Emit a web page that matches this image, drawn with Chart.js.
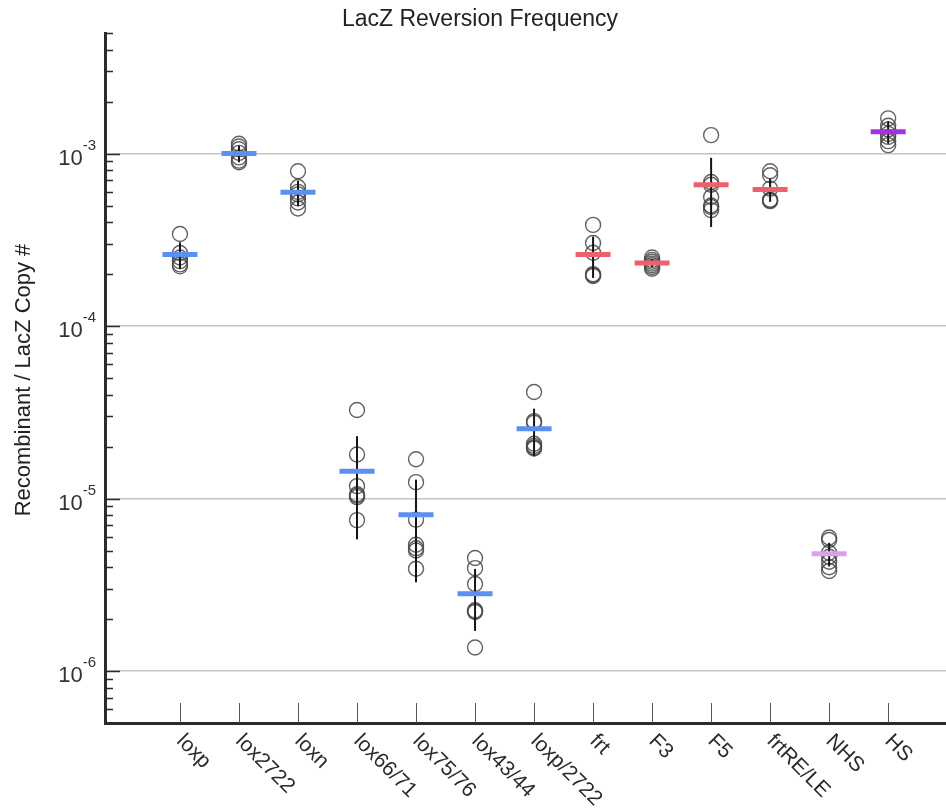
<!DOCTYPE html>
<html>
<head>
<meta charset="utf-8">
<script src="https://cdn.jsdelivr.net/npm/chart.js@4"></script>
<style>
  html, body { margin: 0; padding: 0; background: #fff; overflow: hidden; }
  #lacZChart { display: block; }
</style>
</head>
<body>
<canvas id="lacZChart" width="946" height="809"></canvas>
<script>
// categories along the x axis
const categories = ['loxp', 'lox2722', 'loxn', 'lox66/71', 'lox75/76', 'lox43/44', 'loxp/2722',
  'frt', 'F3', 'F5', 'frtRE/LE', 'NHS', 'HS'];

// individual replicates (recombinant / lacZ copy #), one list per category
const replicates = [
  [3.42e-4, 2.65e-4, 2.5e-4, 2.38e-4, 2.28e-4, 2.22e-4],
  [1.14e-3, 1.10e-3, 1.06e-3, 1.01e-3, 0.95e-3, 0.91e-3, 0.89e-3],
  [7.9e-4, 6.4e-4, 6.0e-4, 5.8e-4, 5.5e-4, 5.2e-4, 4.8e-4],
  [3.26e-5, 1.80e-5, 1.18e-5, 1.06e-5, 1.04e-5, 1.02e-5, 7.5e-6],
  [1.69e-5, 1.245e-5, 7.55e-6, 5.4e-6, 5.15e-6, 5.0e-6, 3.92e-6],
  [4.52e-6, 3.95e-6, 3.2e-6, 2.25e-6, 2.22e-6, 2.2e-6, 1.37e-6],
  [4.15e-5, 2.81e-5, 2.75e-5, 2.08e-5, 2.02e-5, 1.98e-5, 1.95e-5],
  [3.86e-4, 3.03e-4, 2.66e-4, 2.0e-4, 1.97e-4, 1.95e-4],
  [2.5e-4, 2.42e-4, 2.36e-4, 2.3e-4, 2.25e-4, 2.2e-4, 2.15e-4],
  [1.28e-3, 6.84e-4, 6.6e-4, 5.6e-4, 5.0e-4, 4.9e-4, 4.7e-4],
  [7.9e-4, 7.48e-4, 6.26e-4, 5.4e-4, 5.35e-4, 5.3e-4],
  [5.95e-6, 5.75e-6, 4.85e-6, 4.6e-6, 4.3e-6, 4.0e-6, 3.8e-6],
  [1.60e-3, 1.45e-3, 1.38e-3, 1.30e-3, 1.25e-3, 1.18e-3, 1.12e-3]
];

// group means and standard deviations
const meanValues = [2.6e-4, 1.0e-3, 5.96e-4, 1.44e-5, 8.07e-6, 2.81e-6, 2.54e-5,
  2.6e-4, 2.32e-4, 6.6e-4, 6.2e-4, 4.79e-6, 1.34e-3];
const sdValues = [0.46e-4, 0.11e-3, 1.0e-4, 0.86e-5, 4.8e-6, 1.1e-6, 0.78e-5,
  0.7e-4, 0.12e-4, 2.85e-4, 0.95e-4, 0.75e-6, 0.2e-3];

// y axis decades that get a label and a grid line
const yDecades = [-6, -5, -4, -3];

const BLUE = '#5b8ff0', RED = '#f0606a';
const meanColors = [BLUE, BLUE, BLUE, BLUE, BLUE, BLUE, BLUE, RED, RED, RED, RED, '#dc9ff0', '#a232e0'];

const FONT = '"Liberation Sans", Arial, Helvetica, sans-serif';
const AXIS_COLOR = '#2b2b2b';

const pointData = [];
replicates.forEach((vals, i) => vals.forEach(v => pointData.push({ x: i, y: v })));
const meanData = meanValues.map((m, i) => ({ x: i, y: m }));

function isDecade(v) {
  const l = Math.log10(v);
  return Math.abs(l - Math.round(l)) < 1e-6;
}

const decorPlugin = {
  id: 'decor',
  beforeDatasetDraw(chart, args) {
    if (args.index !== 0) return;
    // error bars go under the mean lines but over the circles
    const { ctx, scales: { x, y } } = chart;
    ctx.save();
    ctx.strokeStyle = '#151515';
    ctx.lineWidth = 2;
    meanValues.forEach((m, i) => {
      const px = x.getPixelForValue(i);
      ctx.beginPath();
      ctx.moveTo(px, y.getPixelForValue(m + sdValues[i]));
      ctx.lineTo(px, y.getPixelForValue(Math.max(m - sdValues[i], 1e-9)));
      ctx.stroke();
    });
    ctx.restore();
  },
  afterDraw(chart) {
    const { ctx, chartArea, scales: { x, y } } = chart;
    ctx.save();

    // y ticks, pointing inward
    ctx.strokeStyle = AXIS_COLOR;
    ctx.lineWidth = 1.5;
    y.ticks.forEach(t => {
      const v = t.value;
      const sig = v / Math.pow(10, Math.floor(Math.log10(v) + 1e-9));
      if (Math.abs(sig - Math.round(sig)) > 1e-6) return;
      const py = Math.round(y.getPixelForValue(v)) + 0.5;
      const len = isDecade(v) ? 15 : 8;
      ctx.beginPath();
      ctx.moveTo(chartArea.left, py);
      ctx.lineTo(chartArea.left + len, py);
      ctx.stroke();
    });

    // y tick labels 10^n
    ctx.fillStyle = '#333';
    ctx.textBaseline = 'alphabetic';
    yDecades.forEach(e => {
      const py = y.getPixelForValue(Math.pow(10, e));
      const expText = String(e);
      ctx.font = '15px ' + FONT;
      const ew = ctx.measureText(expText).width;
      ctx.textAlign = 'left';
      const right = chartArea.left - 9;
      ctx.fillText(expText, right - ew, py - 4);
      ctx.font = '22px ' + FONT;
      ctx.textAlign = 'right';
      ctx.fillText('10', right - ew, py + 11);
    });

    // x ticks, pointing up
    ctx.strokeStyle = '#555';
    ctx.lineWidth = 1;
    categories.forEach((c, i) => {
      const px = Math.round(x.getPixelForValue(i)) + 0.5;
      ctx.beginPath();
      ctx.moveTo(px, chartArea.bottom);
      ctx.lineTo(px, chartArea.bottom - 20);
      ctx.stroke();
    });

    // x labels, rotated 45 degrees clockwise
    ctx.fillStyle = '#2a2a2a';
    ctx.font = '21px ' + FONT;
    ctx.textAlign = 'left';
    ctx.textBaseline = 'middle';
    categories.forEach((c, i) => {
      const px = x.getPixelForValue(i);
      ctx.save();
      ctx.translate(px, chartArea.bottom + 15);
      ctx.rotate(Math.PI / 4);
      ctx.fillText(c, 0, 0);
      ctx.restore();
    });

    // title
    ctx.fillStyle = '#222';
    ctx.font = '23px ' + FONT;
    ctx.textAlign = 'center';
    ctx.textBaseline = 'middle';
    ctx.fillText('LacZ Reversion Frequency', 480, 20);

    // y axis title
    ctx.save();
    ctx.font = '22px ' + FONT;
    ctx.translate(24, 380);
    ctx.rotate(-Math.PI / 2);
    ctx.fillText('Recombinant / LacZ Copy #', 0, 0);
    ctx.restore();

    ctx.restore();
  }
};

new Chart(document.getElementById('lacZChart'), {
  type: 'scatter',
  data: {
    datasets: [
      {
        label: 'Mean',
        data: meanData,
        pointStyle: 'line',
        pointRadius: 17.5,
        pointBorderWidth: 5,
        pointBorderColor: meanColors,
        pointBackgroundColor: meanColors
      },
      {
        label: 'Replicates',
        data: pointData,
        pointStyle: 'circle',
        pointRadius: 7.5,
        pointBorderWidth: 1.4,
        pointBorderColor: 'rgba(70, 70, 70, 0.85)',
        pointBackgroundColor: 'rgba(0,0,0,0)'
      }
    ]
  },
  options: {
    responsive: false,
    animation: false,
    events: [],
    layout: { autoPadding: false, padding: { top: 33, right: 0, left: 0, bottom: 0 } },
    plugins: {
      legend: { display: false },
      tooltip: { enabled: false },
      title: { display: false }
    },
    scales: {
      x: {
        type: 'linear',
        min: -1.27,
        max: 12.98,
        afterBuildTicks: s => { s.ticks = categories.map((c, i) => ({ value: i })); },
        afterFit: s => { s.height = 86; s.paddingLeft = 0; s.paddingRight = 0; },
        ticks: { display: false },
        grid: { display: false, drawTicks: false },
        border: { display: true, color: AXIS_COLOR, width: 3 }
      },
      y: {
        type: 'logarithmic',
        min: 5e-7,
        max: 5e-3,
        afterFit: s => { s.width = 105; s.paddingTop = 0; s.paddingBottom = 0; },
        ticks: { display: false },
        grid: {
          drawTicks: false,
          lineWidth: 1.5,
          color: c => (c.tick && isDecade(c.tick.value)) ? '#c4c4c4' : 'rgba(0,0,0,0)'
        },
        border: { display: true, color: AXIS_COLOR, width: 3 }
      }
    }
  },
  plugins: [decorPlugin]
});
</script>
</body>
</html>
